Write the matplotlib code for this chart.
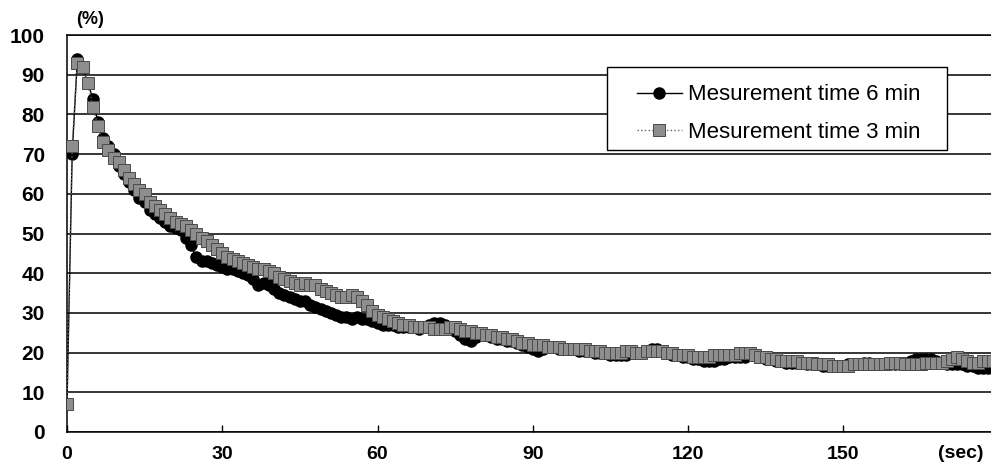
import numpy as np
import matplotlib
matplotlib.use('Agg')
import matplotlib.pyplot as plt
from matplotlib.patches import Rectangle

# time axis, one reading per second
sec = list(range(0, 181))

# measurement time 6 min (black circles)
val_6min = [
    7, 70, 94, 92, 88, 84, 78, 74, 72, 70,
    67, 65, 63, 61, 59, 58, 56, 55, 54, 53,
    52, 51.5, 51, 49, 47, 44, 43, 43, 42.5, 42,
    41.5, 41, 41, 40.5, 40, 39.5, 38.5, 37, 37.5, 37,
    36, 35, 34.5, 34, 33.5, 33, 33, 32, 31.5, 31,
    30.5, 30, 29.5, 29, 29, 28.5, 29, 28.5, 28.5, 28,
    27.5, 27, 27, 27, 26.5, 26.5, 26.5, 26.5, 26, 26.5,
    27, 27.5, 27.5, 27, 26, 25.5, 24.5, 23.5, 23, 24,
    24.5, 24.5, 24, 23.5, 23.5, 23, 23, 22.5, 22, 21.5,
    21, 20.5, 21, 21.5, 21.5, 21, 21, 21, 21, 20.5,
    20.5, 20.5, 20, 20, 20, 19.5, 19.5, 19.5, 19.5, 20,
    20, 20, 20.5, 21, 21, 20.5, 20, 19.5, 19.5, 19,
    19, 18.5, 18.5, 18, 18, 18, 18.5, 18.5, 19, 19,
    19, 19, 19.5, 19.5, 19, 18.5, 18.5, 18, 18, 17.5,
    17.5, 17.5, 17.5, 17, 17, 17, 16.5, 16.5, 16.5, 16.5,
    16.5, 17, 17, 17, 17.5, 17.5, 17, 17, 17, 17,
    17, 17, 17.5, 18, 18.5, 18.5, 18.5, 18.5, 18, 17.5,
    17, 17, 17, 17, 16.5, 16.5, 16, 16, 16, 16,
    15.5,
]

# measurement time 3 min (grey squares)
val_3min = [
    7, 72, 93, 92, 88, 82, 77, 73, 71, 69,
    68, 66, 64, 62.5, 61, 60, 58, 57, 56, 55,
    54, 53, 52.5, 52, 51, 50, 49, 48, 47, 46,
    45, 44, 43.5, 43, 42.5, 42, 41.5, 41, 41, 40.5,
    40, 39, 38.5, 38, 37.5, 37, 37.5, 37, 37, 36,
    35.5, 35, 34.5, 34, 34, 34.5, 34, 33, 32, 30.5,
    29.5, 29, 28.5, 28, 27.5, 27, 27, 26.5, 26.5, 26.5,
    26.5, 26, 26, 26, 26.5, 26.5, 26, 25.5, 25.5, 25,
    25, 24.5, 24.5, 24, 24, 23.5, 23.5, 23, 22.5, 22.5,
    22, 22, 22, 21.5, 21.5, 21.5, 21, 21, 21, 21,
    21, 20.5, 20.5, 20.5, 20, 20, 20, 20, 20.5, 20.5,
    20, 20, 20.5, 20.5, 20.5, 20.5, 20, 20, 19.5, 19.5,
    19.5, 19, 19, 19, 19, 19.5, 19.5, 19.5, 19.5, 19.5,
    20, 20, 20, 19.5, 19, 19, 18.5, 18.5, 18, 18,
    18, 18, 17.5, 17.5, 17.5, 17, 17, 17, 16.5, 16.5,
    16.5, 16.5, 17, 17, 17, 17, 17, 17, 17, 17.5,
    17.5, 17.5, 17, 17, 17, 17, 17.5, 17.5, 17.5, 17.5,
    18, 18.5, 19, 18.5, 18, 17.5, 17.5, 18, 18, 18,
    18,
]

x_ticks = [0, 30, 60, 90, 120, 150]
y_ticks = list(range(0, 101, 10))

plt.rcParams['font.family'] = ['Liberation Sans', 'DejaVu Sans']

fig = plt.figure(figsize=(9.91, 4.68), dpi=100)
ax = fig.add_axes([0.0676, 0.077, 0.94, 0.848])

ax.plot(sec, val_6min, color='black', lw=1.0, marker='o', markersize=8,
        markerfacecolor='black', markeredgecolor='black',
        label='Mesurement time 6 min', zorder=3)
ax.plot(sec, val_3min, color='#666666', lw=1.0, linestyle=':', marker='s',
        markersize=8, markerfacecolor='#8e8e8e', markeredgecolor='#4a4a4a',
        markeredgewidth=0.7, label='Mesurement time 3 min', zorder=4)

ax.set_xlim(0, 180)
ax.set_ylim(0, 100)
ax.set_xticks(x_ticks)
ax.set_yticks(y_ticks)
ax.yaxis.grid(True, color='black', lw=1.1)
ax.set_axisbelow(True)

for s in ['top', 'left', 'bottom']:
    ax.spines[s].set_linewidth(1.1)
ax.spines['right'].set_visible(False)

ax.tick_params(axis='x', direction='in', length=5, width=1, pad=10,
               labelsize=14)
ax.tick_params(axis='y', length=0, pad=16, labelsize=15)
for lab in ax.get_xticklabels() + ax.get_yticklabels():
    lab.set_fontweight('bold')

ax.text(177, -0.032, '(sec)', transform=ax.get_xaxis_transform(),
        ha='right', va='top', fontsize=14, fontweight='bold', clip_on=False)
ax.text(4.5, 104, '(%)', ha='center', va='center', fontsize=13,
        fontweight='bold', clip_on=False)

# legend box drawn separately so the padding matches the original
box = Rectangle((0.580, 0.711), 0.365, 0.209, transform=ax.transAxes,
                facecolor='white', edgecolor='black', lw=1.0, zorder=9)
ax.add_patch(box)
leg = ax.legend(loc='upper left', bbox_to_anchor=(0.612, 0.876),
                fontsize=16, frameon=False, handlelength=2.0,
                handletextpad=0.3, borderpad=0, labelspacing=0.75,
                borderaxespad=0)
leg.set_zorder(10)

fig.savefig('out.png', dpi=100)
